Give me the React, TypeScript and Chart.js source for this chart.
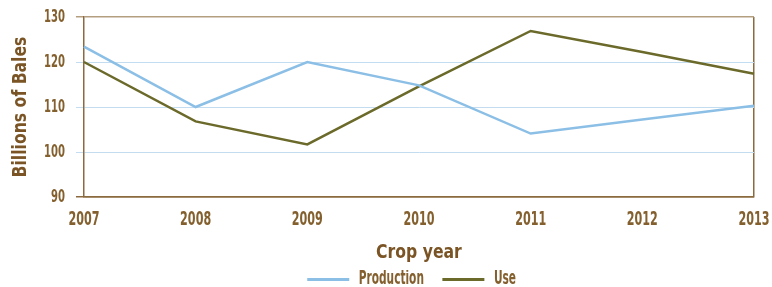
import React, { useEffect, useRef } from "react";
import { Chart, registerables } from "chart.js";

Chart.register(...registerables);

const years = ["2007", "2008", "2009", "2010", "2011", "2012", "2013"];
const production = [123.4, 110, 120, 114.8, 104.1, 107.2, 110.3];
const use = [120, 106.8, 101.7, 114.6, 126.9, 122.2, 117.4];
const yTicks = [90, 100, 110, 120, 130];

const TICK = "#84602f";
const TITLE = "#7a5424";
const AXIS = "#8a6a3e";
const TAN = "#b49e80";
const GRID = "#c4dcf0";
const BLUE = "#8cbfe6";
const OLIVE = "#6b6a2b";
// condensed label face (squeezed further when drawn) and title face
const NARROW = "'DejaVu Sans Condensed', sans-serif";
const HEAD = "'DejaVu Sans Condensed', 'Noto Sans'";

export default function App() {
  const ref = useRef<HTMLCanvasElement | null>(null);
  useEffect(() => {
    const canvas = ref.current;
    if (!canvas) return;
    const ctx = canvas.getContext("2d") as any;
    const origFill = ctx.fillText.bind(ctx);
    const origMeasure = ctx.measureText.bind(ctx);
    const squeeze = () => {
      const f: string = ctx.font || "";
      if (f.includes("Noto")) return 0.87;
      if (f.includes("Condensed")) return 0.62;
      return 1;
    };
    ctx.measureText = (t: string) => {
      const m = origMeasure(t);
      const k = squeeze();
      if (k === 1) return m;
      return {
        width: m.width * k,
        actualBoundingBoxAscent: m.actualBoundingBoxAscent,
        actualBoundingBoxDescent: m.actualBoundingBoxDescent,
        actualBoundingBoxLeft: m.actualBoundingBoxLeft * k,
        actualBoundingBoxRight: m.actualBoundingBoxRight * k,
      };
    };
    ctx.fillText = (t: string, x: number, y: number, mw?: number) => {
      const k = squeeze();
      if (k === 1) return mw === undefined ? origFill(t, x, y) : origFill(t, x, y, mw);
      const w = origMeasure(t).width * k;
      origFill(t, x, y, mw !== undefined ? Math.min(mw, w) : w);
    };

    const chart = new Chart(canvas, {
      type: "line",
      data: {
        labels: years,
        datasets: [
          {
            label: "Production",
            data: production,
            borderColor: BLUE,
            backgroundColor: BLUE,
            borderWidth: 2.5,
            pointRadius: 0,
            tension: 0,
          },
          {
            label: "Use",
            data: use,
            borderColor: OLIVE,
            backgroundColor: OLIVE,
            borderWidth: 2.5,
            pointRadius: 0,
            tension: 0,
          },
        ],
      },
      options: {
        animation: false,
        responsive: true,
        maintainAspectRatio: false,
        layout: { padding: { left: 9, right: 0, top: 0, bottom: -12 } },
        plugins: {
          tooltip: { enabled: false },
          legend: {
            position: "bottom",
            fullSize: false,
            labels: {
              boxWidth: 42,
              boxHeight: 3,
              padding: 0,
              color: TICK,
              font: { family: NARROW, size: 19, weight: "bold" },
              generateLabels: (c: any) => {
                const items = (Chart.defaults.plugins.legend.labels as any).generateLabels(c);
                items.forEach((i: any, idx: number) => {
                  i.lineWidth = 0;
                  i.text = i.text + (idx === 0 ? "\u00a0\u00a0\u00a0\u00a0\u00a0" : "\u00a0\u00a0\u00a0\u00a0");
                });
                return items;
              },
            },
          },
        },
        scales: {
          x: {
            offset: false,
            afterFit: (s: any) => {
              s.paddingRight = 18;
              s.paddingLeft = 0;
            },
            grid: {
              drawTicks: false,
              color: (c: any) => (c.index === years.length - 1 ? AXIS : "rgba(0,0,0,0)"),
              lineWidth: 1.5,
            },
            border: { color: AXIS, width: 1.5 },
            ticks: {
              color: TICK,
              padding: 11,
              maxRotation: 0,
              autoSkip: false,
              font: { family: NARROW, size: 20, weight: "bold" },
            },
            title: {
              display: true,
              text: "Crop year",
              color: TITLE,
              font: { family: HEAD, size: 20, weight: "bold", lineHeight: 1.0 },
              padding: { top: 0, bottom: 7 },
            },
          },
          y: {
            min: yTicks[0],
            max: yTicks[yTicks.length - 1],
            afterBuildTicks: (axis: any) => {
              axis.ticks = yTicks.map((v) => ({ value: v }));
            },
            afterFit: (s: any) => {
              s.paddingTop = 17;
              s.paddingBottom = 0;
            },
            grid: {
              tickLength: 8,
              lineWidth: (c: any) => (c.tick && (c.tick.value === 130 || c.tick.value === 90) ? 1.5 : 1),
              color: (c: any) => {
                const v = c.tick ? c.tick.value : 0;
                if (v === 130) return TAN;
                if (v === 90) return AXIS;
                return GRID;
              },
            },
            border: { color: AXIS, width: 1.5 },
            ticks: {
              color: TICK,
              padding: 11,
              font: { family: NARROW, size: 18, weight: "bold" },
            },
            title: {
              display: true,
              text: "Billions of Bales",
              color: TITLE,
              font: { family: HEAD, size: 20, weight: "bold" },
              padding: { top: 0, bottom: 0 },
            },
          },
        },
      },
    });
    return () => chart.destroy();
  }, []);
  return (
    <div style={{ position: "fixed", left: 0, top: 0, width: 772, height: 287, background: "#fff" }}>
      <canvas ref={ref} />
    </div>
  );
}
